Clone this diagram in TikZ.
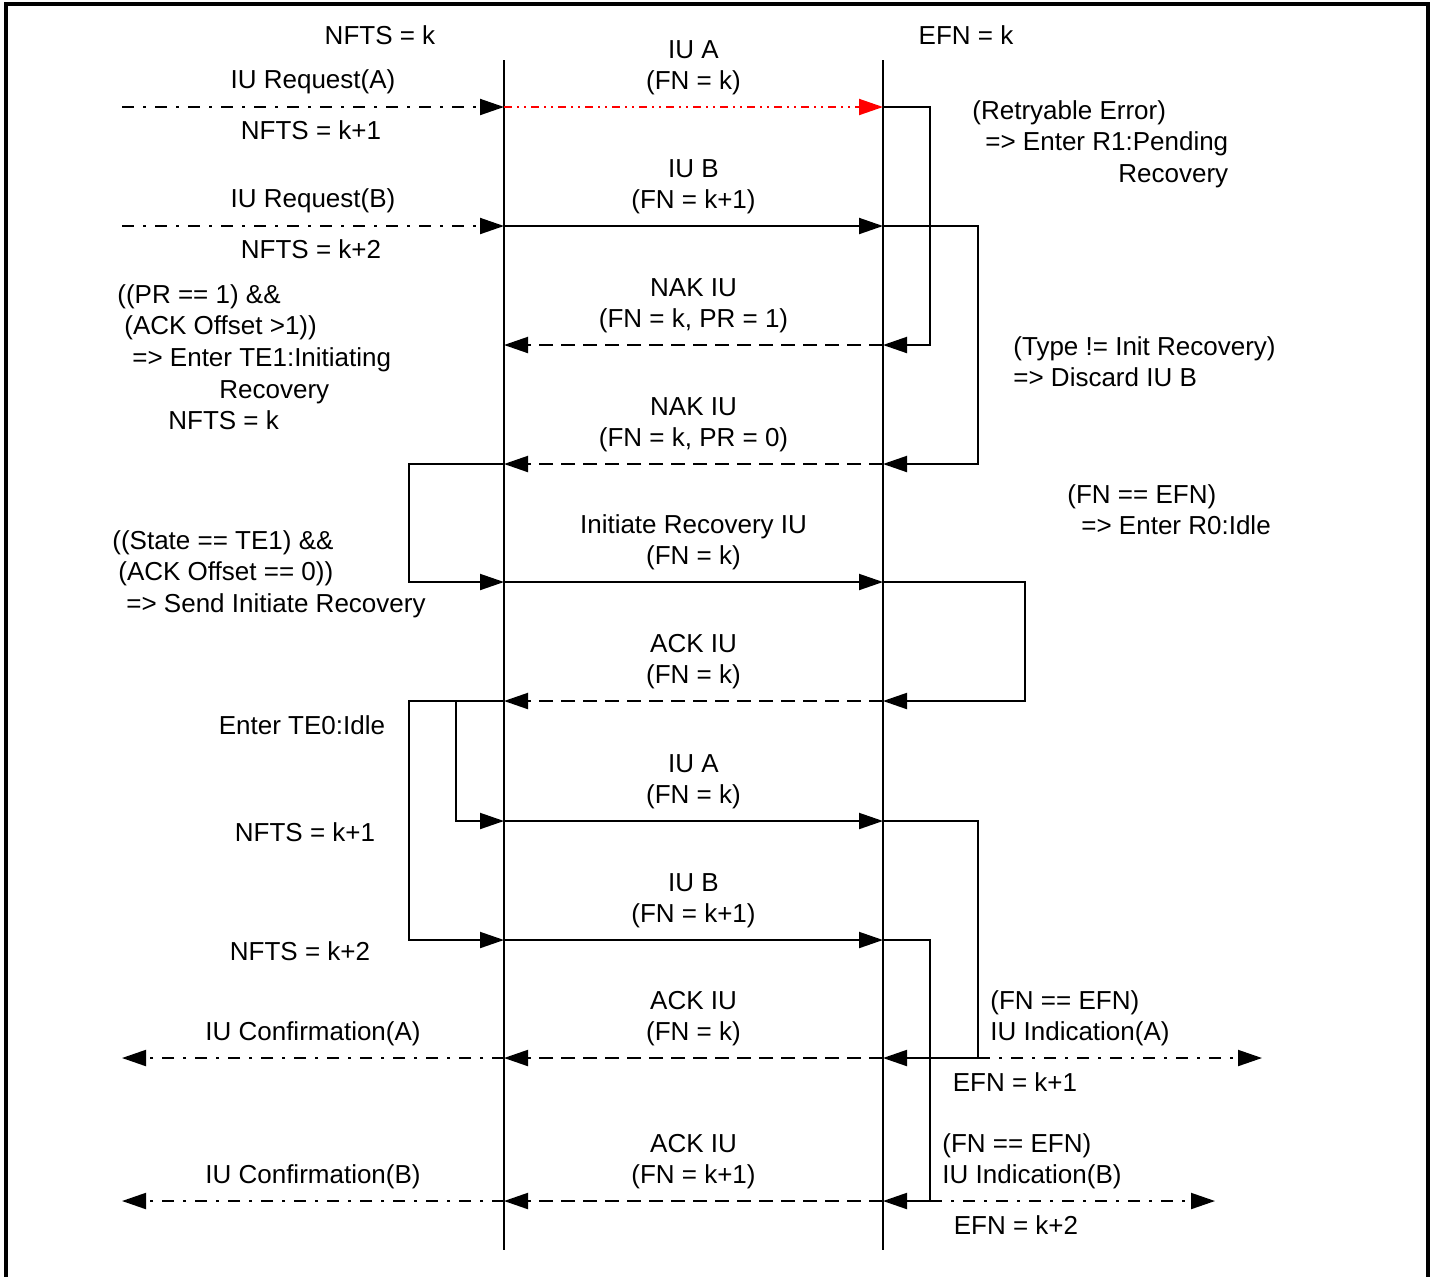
\documentclass[tikz,border=0pt]{standalone}
\usepackage{fontspec}
\setmainfont{Liberation Sans}
\usetikzlibrary{arrows.meta,positioning}

\begin{document}
\begin{tikzpicture}[
    x=0.5pt, y=-0.5pt,
    font=\fontsize{13}{15.8}\selectfont,
    lbl/.style={inner sep=0pt, align=center},
    note/.style={inner sep=0pt, align=left, anchor=north west},
    msg/.style={-{Triangle[length=12pt, width=8pt]}, line width=1pt},
    nak/.style={msg, dash pattern=on 7pt off 4pt},
    ext/.style={msg, dash pattern=on 6pt off 4.5pt on 1.5pt off 4.5pt},
    err/.style={msg, red, dash pattern=on 4pt off 2.5pt on 1pt off 2.5pt on 1pt off 2.5pt},
    life/.style={line width=1pt}
  ]
    \useasboundingbox (0,0) rectangle (1435,1276);
    \draw[line width=1.8pt] (6,1300) -- (6,4) -- (1428,4) -- (1428,1300);

    % lifelines
    \coordinate (ltop) at (504,60);
    \coordinate (lbot) at (504,1250);
    \coordinate (rtop) at (883,60);
    \coordinate (rbot) at (883,1250);
    \draw[life] (ltop) -- (lbot);
    \draw[life] (rtop) -- (rbot);

    \foreach \n/\y in {1/107, 2/226, 3/345, 4/464, 5/582, 6/701, 7/821, 8/940, 9/1058, 10/1201} {
      \coordinate (l\n) at (504,\y);
      \coordinate (r\n) at (883,\y);
      \coordinate (m\n) at (693.5,\y);
    }
    \coordinate (xa) at (122,107);
    \coordinate (xb) at (122,226);
    \coordinate (ca) at (122,1058);
    \coordinate (cb) at (122,1201);
    \coordinate (ia) at (978,1058);
    \coordinate (ib) at (930,1201);
    \coordinate (ya) at (1262,1058);
    \coordinate (yb) at (1215,1201);

    % messages
    \draw[ext] (xa) -- (l1);
    \draw[err] (l1) -- (r1);
    \draw[msg] (r1) -- ++(47,0) |- (r3);
    \draw[ext] (xb) -- (l2);
    \draw[msg] (l2) -- (r2);
    \draw[msg] (r2) -- ++(95,0) |- (r4);
    \draw[nak] (r3) -- (l3);
    \draw[nak] (r4) -- (l4);
    \draw[msg] (l4) -- ++(-95,0) |- (l5);
    \draw[msg] (l5) -- (r5);
    \draw[msg] (r5) -- ++(142,0) |- (r6);
    \draw[nak] (r6) -- (l6);
    \draw[msg] (l6) -- ++(-95,0) |- (l8);
    \draw[msg] (l6) -- ++(-48,0) |- (l7);
    \draw[msg] (l7) -- (r7);
    \draw[msg] (r7) -| (ia) -- (r9);
    \draw[msg] (l8) -- (r8);
    \draw[msg] (r8) -| (ib) -- (r10);
    \draw[nak] (r9) -- (l9);
    \draw[nak] (r10) -- (l10);
    \draw[ext] (l9) -- (ca);
    \draw[ext] (l10) -- (cb);
    \draw[ext] (ia) -- (ya);
    \draw[ext] (ib) -- (yb);

    % message labels
    \foreach \n/\t in {1/{IU A\\(FN = k)}, 2/{IU B\\(FN = k+1)},
        3/{NAK IU\\(FN = k, PR = 1)}, 4/{NAK IU\\(FN = k, PR = 0)},
        5/{Initiate Recovery IU\\(FN = k)}, 6/{ACK IU\\(FN = k)},
        7/{IU A\\(FN = k)}, 8/{IU B\\(FN = k+1)},
        9/{ACK IU\\(FN = k)}, 10/{ACK IU\\(FN = k+1)}}
      \node[lbl, above=5.8pt of m\n] (t\n) {\t};

    % sender side
    \node[lbl] (nfts0) at (380,35) {NFTS = k};
    \node[lbl] (reqa) at (313,82) {IU Request(A)};
    \node[lbl] (nfts1) at (311,130) {NFTS = k+1};
    \node[lbl] (reqb) at (313,201) {IU Request(B)};
    \node[lbl] (nfts2) at (311,249) {NFTS = k+2};
    \node[note] (te1) at (117,284) {((PR == 1) \&\&\\\hspace*{3.5pt}(ACK Offset >1))\\\hspace*{7.5pt}=> Enter TE1:Initiating\\\hspace*{51pt}Recovery\\\hspace*{25.5pt}NFTS = k};
    \node[note] (send) at (112,530) {((State == TE1) \&\&\\\hspace*{3pt}(ACK Offset == 0))\\\hspace*{7pt}=> Send Initiate Recovery};
    \node[lbl] (te0) at (302,725) {Enter TE0:Idle};
    \node[lbl] (nfts3) at (305,832) {NFTS = k+1};
    \node[lbl] (nfts4) at (300,951) {NFTS = k+2};
    \node[lbl] (confa) at (313,1034) {IU Confirmation(A)};
    \node[lbl] (confb) at (313,1177) {IU Confirmation(B)};

    % receiver side
    \node[lbl] (efn0) at (966,35) {EFN = k};
    \node[note] (r1note) at (972,100) {(Retryable Error)\\\hspace*{6.5pt}=> Enter R1:Pending\\\hspace*{73pt}Recovery};
    \node[note] (discard) at (1013,336) {(Type != Init Recovery)\\=> Discard IU B};
    \node[note] (r0note) at (1067,484) {(FN == EFN)\\\hspace*{7pt}=> Enter R0:Idle};
    \node[note] (inda) at (990,990) {(FN == EFN)\\IU Indication(A)};
    \node[lbl] (efn1) at (1015,1082) {EFN = k+1};
    \node[note] (indb) at (942,1133) {(FN == EFN)\\IU Indication(B)};
    \node[lbl] (efn2) at (1016,1225) {EFN = k+2};
  \end{tikzpicture}
\end{document}
